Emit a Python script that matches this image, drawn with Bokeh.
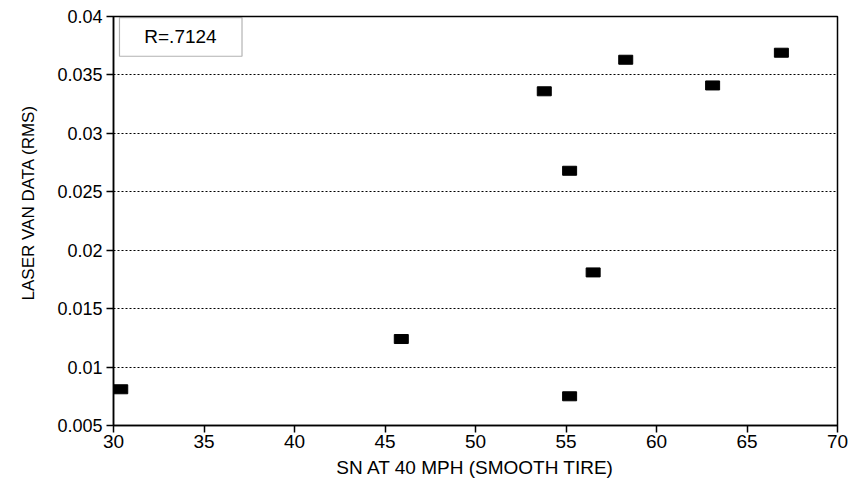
from bokeh.plotting import figure
from bokeh.models import FixedTicker, BoxAnnotation, Label, ColumnDataSource, Title
from bokeh.embed import file_html
from bokeh.resources import INLINE

# Data
sn_40 = [30.4, 45.9, 55.2, 53.8, 55.2, 56.5, 58.3, 63.1, 66.9]
laser_rms = [0.0081, 0.0124, 0.0075, 0.0336, 0.0268, 0.0181, 0.0363, 0.0341, 0.0369]

x_ticks = [30, 35, 40, 45, 50, 55, 60, 65, 70]
y_ticks = [0.005, 0.01, 0.015, 0.02, 0.025, 0.03, 0.035, 0.04]
y_tick_labels = ["0.005", "0.01", "0.015", "0.02", "0.025", "0.03", "0.035", "0.04"]
r_text = "R=.7124"

FONT = "Liberation Sans"

p = figure(width=848, height=483, x_range=(30, 70), y_range=(0.005, 0.04),
           output_backend="svg", toolbar_location=None,
           min_border_left=111, min_border_right=11, min_border_top=16, min_border_bottom=58)

p.outline_line_color = "black"
p.outline_line_width = 1.5

src = ColumnDataSource(dict(x=sn_40, y=laser_rms))
p.rect(x="x", y="y", width=14, height=9, width_units="screen", height_units="screen",
       source=src, fill_color="black", line_color="black")

# axes
for ax in (p.xaxis[0], p.yaxis[0]):
    ax.axis_line_color = "black"
    ax.axis_line_width = 1.5
    ax.major_tick_line_color = "black"
    ax.major_tick_line_width = 1.5
    ax.major_tick_out = 7
    ax.major_tick_in = 0
    ax.minor_tick_line_color = None
    ax.major_label_text_font = FONT
    ax.major_label_text_color = "black"
    ax.axis_label_text_font = FONT
    ax.axis_label_text_font_style = "normal"
    ax.axis_label_text_color = "black"

p.xaxis.major_label_text_font_size = "19px"
p.yaxis.major_label_text_font_size = "18px"
p.xaxis.ticker = FixedTicker(ticks=x_ticks)
p.yaxis.ticker = FixedTicker(ticks=y_ticks)
p.yaxis.major_label_overrides = {t: l for t, l in zip(y_ticks, y_tick_labels)}
p.xaxis.major_label_standoff = 2
p.yaxis.major_label_standoff = 4
p.xaxis.axis_label = "SN AT 40 MPH (SMOOTH TIRE)"
p.xaxis.axis_label_text_font_size = "19px"
p.xaxis.axis_label_standoff = 6

ylab = Title(text="LASER VAN DATA (RMS)", align="left", offset=125,
             text_font=FONT, text_font_size="17px", text_font_style="normal",
             text_color="black", standoff=33)
p.add_layout(ylab, "left")

p.xgrid.grid_line_color = None
p.ygrid.ticker = FixedTicker(ticks=y_ticks[1:-1])
p.ygrid.grid_line_color = "black"
p.ygrid.grid_line_width = 1
p.ygrid.grid_line_dash = "2 2"

box = BoxAnnotation(left=30.33, right=37.1, bottom=0.0366, top=0.0399,
                    fill_color="white", fill_alpha=1, line_color="black", line_width=1.2)
p.add_layout(box)
p.add_layout(Label(x=33.7, y=0.03825, text=r_text, text_align="center", text_baseline="middle",
                   text_font=FONT, text_font_size="19px", text_color="black"))

open("out.html", "w").write(file_html(p, INLINE))
